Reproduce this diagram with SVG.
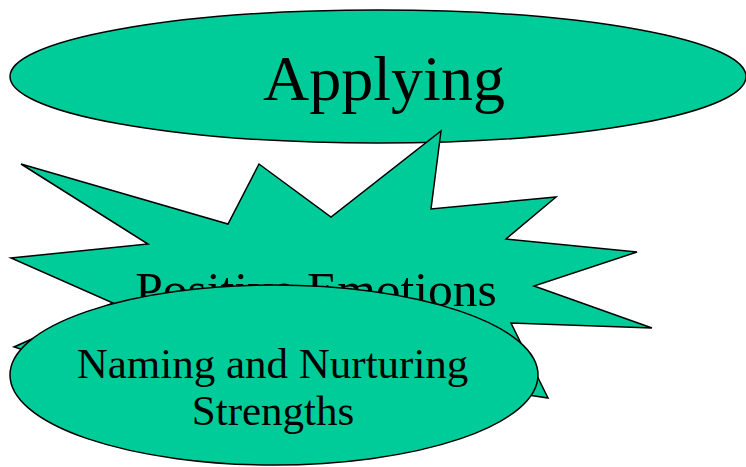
<svg xmlns="http://www.w3.org/2000/svg" width="746" height="467" viewBox="0 0 746 467">
<style>
.shape{fill:#00CC99;stroke:#000;stroke-width:1.5}
.t{font-family:"Liberation Serif","Times New Roman",serif;fill:#000;text-anchor:middle}
</style>
<rect width="746" height="467" fill="#fff"/>
<g id="applying">
<ellipse class="shape" cx="378" cy="76.5" rx="368" ry="66.5"/>
<text class="t" x="384" y="100" font-size="64">Applying</text>
</g>
<g id="positive-emotions">
<polygon class="shape" points="21,164 228,224 259,164 331,217 441,131 431,209 556,197 506,239 637,252 534,286 652,328 511,323 548,398 430,380 300,430 180,400 14,347 113,303 11,258 148,244"/>
<text class="t" x="316" y="306" font-size="49.5">Positive Emotions</text>
</g>
<g id="naming-strengths">
<ellipse class="shape" cx="274" cy="375" rx="264" ry="90"/>
<text class="t" x="272.5" y="378" font-size="43">Naming and Nurturing</text>
<text class="t" x="273" y="425" font-size="43">Strengths</text>
</g>
<g id="connectors"/>
</svg>
